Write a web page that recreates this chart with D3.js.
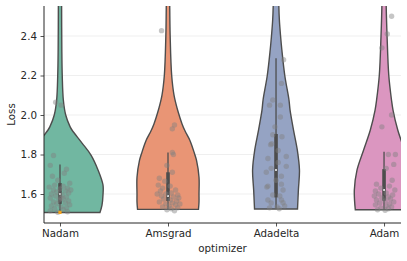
<!DOCTYPE html>
<meta charset="utf-8">
<html>
<style>
  body { margin: 0; background: #fff; }
  text { font-family: "DejaVu Sans", sans-serif; fill: #262626; }
</style>
<div id="chart"></div>
<script src="https://cdn.jsdelivr.net/npm/d3@7"></script>
<script>
// categories and colours (seaborn Set2, desaturated)
var optimizers = ["Nadam", "Amsgrad", "Adadelta", "Adam"];
var colors = ["#71b7a1", "#e99575", "#95a3c3", "#db96c0"];
var yTicks = [1.6, 1.8, 2.0, 2.2, 2.4];

// violin outlines: [loss, half width in category units]
var nadamShape = [[1.506,0.370],[1.544,0.389],[1.595,0.398],[1.646,0.398],[1.722,0.352],[1.797,0.287],[1.858,0.204],[1.924,0.111],[1.941,0.093],[2.0,0.053],[2.076,0.031],[2.197,0.021],[2.329,0.017],[2.552,0.015],[2.7,0.014]];
var amsgradShape = [[1.522,0.282],[1.56,0.287],[1.6,0.287],[1.685,0.287],[1.77,0.264],[1.805,0.245],[1.87,0.204],[1.92,0.157],[1.955,0.130],[2.01,0.097],[2.1,0.056],[2.2,0.034],[2.4,0.020],[2.55,0.016],[2.7,0.015]];
var adadeltaShape = [[1.524,0.199],[1.62,0.207],[1.722,0.217],[1.823,0.197],[1.924,0.162],[2.025,0.130],[2.076,0.120],[2.2,0.081],[2.329,0.054],[2.4,0.042],[2.481,0.031],[2.552,0.026],[2.7,0.022]];
var adamShape = [[1.52,0.266],[1.62,0.275],[1.722,0.250],[1.823,0.189],[1.924,0.127],[2.025,0.083],[2.076,0.069],[2.2,0.044],[2.4,0.028],[2.552,0.020],[2.7,0.018]];

// inner box: [whisker low, q1, median, q3, whisker high]
var nadamBox = [1.506, 1.55, 1.60, 1.655, 1.75];
var amsgradBox = [1.522, 1.565, 1.59, 1.71, 1.81];
var adadeltaBox = [1.524, 1.583, 1.722, 1.904, 2.287];
var adamBox = [1.52, 1.566, 1.62, 1.726, 1.814];

// strip points: [loss, jitter in category units]
var nadamPts = [[2.065,-0.04],[2.05,0.01],[1.795,-0.06],[1.745,-0.09],[1.725,0.06],[1.705,0.04],[1.69,-0.07],[1.67,-0.02],[1.655,0.09],[1.645,-0.05],[1.64,0.03],[1.635,-0.10],[1.63,0.07],[1.625,0.0],[1.62,-0.06],[1.615,0.05],[1.61,-0.03],[1.605,0.08],[1.6,-0.08],[1.595,0.02],[1.59,-0.04],[1.585,0.06],[1.58,-0.09],[1.575,0.03],[1.57,-0.01],[1.565,0.08],[1.56,-0.06],[1.555,0.05],[1.55,-0.03],[1.545,0.09],[1.54,-0.08],[1.535,0.01],[1.53,0.06],[1.525,-0.05],[1.52,0.03],[1.515,-0.09],[1.51,0.07],[1.508,-0.02],[1.62,0.10],[1.58,0.01]];
var amsgradPts = [[2.427,-0.06],[1.95,0.06],[1.93,0.04],[1.81,0.04],[1.80,0.05],[1.745,-0.01],[1.71,0.04],[1.68,-0.08],[1.665,-0.03],[1.645,-0.09],[1.64,0.02],[1.63,-0.05],[1.62,0.07],[1.615,-0.07],[1.605,0.03],[1.6,-0.02],[1.595,0.09],[1.59,-0.06],[1.585,0.05],[1.58,0.1],[1.575,-0.04],[1.57,0.02],[1.565,0.08],[1.56,-0.08],[1.555,0.04],[1.55,-0.02],[1.545,0.07],[1.54,0.01],[1.535,-0.05],[1.53,0.09],[1.525,0.03],[1.52,-0.01],[1.515,0.06],[1.55,0.11],[1.6,-0.1]];
var adadeltaPts = [[2.28,0.07],[2.16,0.05],[2.076,-0.03],[2.05,-0.06],[2.05,0.04],[1.99,0.04],[1.90,-0.03],[1.89,0.055],[1.855,-0.04],[1.85,-0.05],[1.79,0.095],[1.78,-0.075],[1.76,0.02],[1.74,0.095],[1.73,-0.045],[1.71,-0.09],[1.69,0.05],[1.67,0.0],[1.64,-0.075],[1.635,-0.085],[1.65,0.05],[1.62,0.065],[1.595,-0.03],[1.59,0.035],[1.57,-0.075],[1.57,0.05],[1.555,-0.045],[1.556,0.065],[1.54,0.08],[1.535,0.01],[1.53,-0.06],[1.525,0.03],[1.82,0.02],[1.94,-0.01]];
var adamPts = [[2.50,0.07],[2.41,0.03],[2.34,-0.02],[2.0,0.07],[1.94,-0.02],[1.80,0.105],[1.80,0.04],[1.75,0.09],[1.73,0.02],[1.67,0.075],[1.65,-0.07],[1.64,0.05],[1.63,-0.03],[1.62,0.10],[1.615,-0.08],[1.605,0.02],[1.6,-0.05],[1.595,0.08],[1.59,-0.09],[1.585,0.04],[1.58,-0.02],[1.575,0.06],[1.57,-0.07],[1.565,0.01],[1.56,0.09],[1.555,-0.04],[1.55,0.05],[1.545,-0.08],[1.54,0.02],[1.535,0.07],[1.53,-0.03],[1.525,0.04],[1.52,-0.06],[1.518,0.01]];

// the small orange marker at the foot of Nadam
var markers = [["Nadam", 1.507]];

var shapes = [nadamShape, amsgradShape, adadeltaShape, adamShape];
var boxes = [nadamBox, amsgradBox, adadeltaBox, adamBox];
var points = [nadamPts, amsgradPts, adadeltaPts, adamPts];

var W = 407, H = 261;
var mLeft = 44, mRight = 401, mTop = 6, mBottom = 223;

var svg = d3.select("#chart").append("svg").attr("width", W).attr("height", H);

var x = d3.scaleLinear().domain([-0.148, 3.157]).range([mLeft, mRight]);
var y = d3.scaleLinear().domain([1.4532, 2.5519]).range([mBottom, mTop]);

svg.append("clipPath").attr("id", "clip")
  .append("rect").attr("x", mLeft).attr("y", mTop).attr("width", mRight - mLeft).attr("height", mBottom - mTop);

// grid
svg.append("g").selectAll("line").data(yTicks).enter().append("line")
  .attr("x1", mLeft).attr("x2", mRight)
  .attr("y1", function (d) { return y(d); }).attr("y2", function (d) { return y(d); })
  .style("stroke", "#ebebeb").style("stroke-width", 0.8);

var plot = svg.append("g").attr("clip-path", "url(#clip)");

shapes.forEach(function (shape, i) {
  var area = d3.area()
    .curve(d3.curveCatmullRom)
    .y(function (d) { return y(d[0]); })
    .x0(function (d) { return x(i - d[1]); })
    .x1(function (d) { return x(i + d[1]); });
  plot.append("path")
    .attr("d", area(shape) + "Z")
    .style("fill", colors[i])
    .style("stroke", "#4d4d4d")
    .style("stroke-width", 1.4);
});

boxes.forEach(function (b, i) {
  plot.append("line")
    .attr("x1", x(i)).attr("x2", x(i))
    .attr("y1", y(b[0])).attr("y2", y(b[4]))
    .style("stroke", "#4d4d4d").style("stroke-width", 1.3);
  plot.append("line")
    .attr("x1", x(i)).attr("x2", x(i))
    .attr("y1", y(b[1])).attr("y2", y(b[3]))
    .style("stroke", "#4d4d4d").style("stroke-width", 3.6);
  plot.append("circle")
    .attr("cx", x(i)).attr("cy", y(b[2])).attr("r", 1)
    .style("fill", "#fff");
});

points.forEach(function (pts, i) {
  plot.append("g").selectAll("circle").data(pts).enter().append("circle")
    .attr("cx", function (d) { return x(i + d[1]); })
    .attr("cy", function (d) { return y(d[0]); })
    .attr("r", 2.7)
    .style("fill", "#808080")
    .style("opacity", 0.45);
});

plot.selectAll("rect.marker").data(markers).enter().append("rect")
  .attr("class", "marker")
  .attr("x", function (d) { return x(optimizers.indexOf(d[0])) - 1.6; })
  .attr("y", function (d) { return y(d[1]) - 1.6; })
  .attr("width", 3.2).attr("height", 3.2)
  .style("fill", "#f5a31a");

// axes
var yAxis = svg.append("g").attr("transform", "translate(" + mLeft + ",0)")
  .call(d3.axisLeft(y).tickValues(yTicks).tickFormat(d3.format(".1f")).tickSize(3.5).tickPadding(3.5));
var xAxis = svg.append("g").attr("transform", "translate(0," + mBottom + ")")
  .call(d3.axisBottom(x).tickValues(d3.range(optimizers.length)).tickFormat(function (d) { return optimizers[d]; }).tickSize(3.5).tickPadding(3.5));

[yAxis, xAxis].forEach(function (a) {
  a.select(".domain").style("stroke", "#262626").style("stroke-width", 1);
  a.selectAll(".tick line").style("stroke", "#262626").style("stroke-width", 0.8);
  a.selectAll(".tick text").style("font-size", "10.3px").style("fill", "#262626")
    .style("font-family", "'DejaVu Sans', sans-serif");
});
yAxis.select(".domain").attr("d", "M0," + mTop + "V" + mBottom);
xAxis.select(".domain").attr("d", "M" + mLeft + ",0H" + mRight);

svg.append("text")
  .attr("x", (mLeft + mRight) / 2).attr("y", 252)
  .attr("text-anchor", "middle")
  .style("font-size", "10.3px")
  .text("optimizer");

svg.append("text")
  .attr("transform", "translate(15," + (mTop + mBottom) / 2 + ") rotate(-90)")
  .attr("text-anchor", "middle")
  .style("font-size", "10.3px")
  .text("Loss");
</script>
</html>
